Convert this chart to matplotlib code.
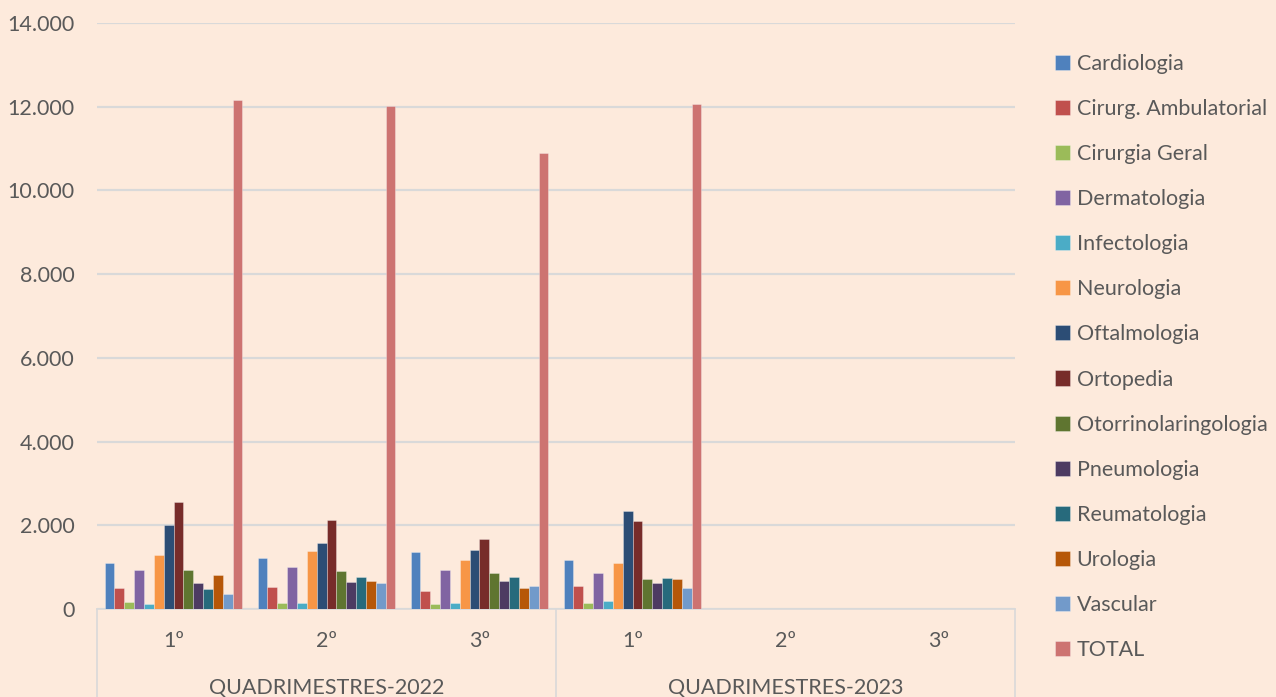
import numpy as np
import matplotlib.pyplot as plt

plt.rcParams['font.family'] = ['Lato', 'DejaVu Sans']

periods = ["1º", "2º", "3º", "1º", "2º", "3º"]
years = ["QUADRIMESTRES-2022", "QUADRIMESTRES-2023"]

specialties = ["Cardiologia", "Cirurg. Ambulatorial", "Cirurgia Geral", "Dermatologia",
               "Infectologia", "Neurologia", "Oftalmologia", "Ortopedia",
               "Otorrinolaringologia", "Pneumologia", "Reumatologia", "Urologia",
               "Vascular", "TOTAL"]

nan = np.nan
# one row per specialty, one column per period (2023 2º/3º still empty)
values = [
    [1100, 1210, 1360, 1180, nan, nan],       # Cardiologia
    [510, 520, 425, 550, nan, nan],           # Cirurg. Ambulatorial
    [160, 145, 120, 145, nan, nan],           # Cirurgia Geral
    [920, 1015, 935, 850, nan, nan],          # Dermatologia
    [120, 145, 135, 185, nan, nan],           # Infectologia
    [1285, 1375, 1175, 1095, nan, nan],       # Neurologia
    [2005, 1575, 1415, 2340, nan, nan],       # Oftalmologia
    [2545, 2130, 1675, 2100, nan, nan],       # Ortopedia
    [920, 900, 860, 725, nan, nan],           # Otorrinolaringologia
    [630, 640, 665, 630, nan, nan],           # Pneumologia
    [470, 765, 765, 735, nan, nan],           # Reumatologia
    [815, 665, 505, 720, nan, nan],           # Urologia
    [360, 615, 545, 495, nan, nan],           # Vascular
    [12150, 12010, 10900, 12060, nan, nan],   # TOTAL
]

colors = ["#4F81BD", "#C0504D", "#9BBB59", "#8064A2", "#4BACC6", "#F79646",
          "#2C4D75", "#772C2A", "#5F7530", "#4D3B62", "#276A7C", "#B65708",
          "#729ACA", "#CD7371"]

bg = "#FDEADC"
txt = "#595959"
grid = "#D9D9D9"
fs = 15.5

fig = plt.figure(figsize=(12.76, 6.97), dpi=100, facecolor=bg)
ax = fig.add_axes([97/1276, 88/697, 918/1276, 586/697], facecolor=bg)

n = len(specialties)
w = 0.9 / n
x = np.arange(len(periods))
for j, (name, vals) in enumerate(zip(specialties, values)):
    ax.bar(x + (j - (n - 1) / 2) * w, vals, width=w, color=colors[j], label=name,
           edgecolor=(1, 1, 1, 0.35), linewidth=0.6, zorder=3)

ax.set_xlim(-0.5, len(periods) - 0.5)
ax.set_ylim(0, 14000)
ax.set_yticks(np.arange(0, 14001, 2000))
ax.set_yticklabels([f"{v:,.0f}".replace(",", ".") for v in np.arange(0, 14001, 2000)])
ax.tick_params(axis='y', length=0, pad=16, labelsize=fs, labelcolor=txt)
ax.set_xticks([])
ax.grid(axis='y', color=grid, linewidth=1.6, zorder=0)
for s in ['top', 'right', 'left']:
    ax.spines[s].set_visible(False)
ax.spines['bottom'].set_color(grid)
ax.spines['bottom'].set_linewidth(1.2)

# two-level category axis
trans = ax.get_xaxis_transform()
for i, p in enumerate(periods):
    ax.text(i, -0.055, p, transform=trans, ha='center', va='center',
            fontsize=fs, color=txt)
for k, yr in enumerate(years):
    ax.text(3 * k + 1, -0.134, yr, transform=trans, ha='center', va='center',
            fontsize=fs, color=txt)
for xs in [-0.5, 2.5, 5.5]:
    ax.plot([xs, xs], [0, -0.16], transform=trans, color=grid, linewidth=1.2,
            clip_on=False)

handles, labels = ax.get_legend_handles_labels()
fig.legend(handles, labels, loc='upper left', bbox_to_anchor=(1055/1276, 1 - 54/697),
           frameon=False, fontsize=fs, labelcolor=txt, handlelength=0.7,
           handleheight=0.7, handletextpad=0.3, labelspacing=1.165, borderaxespad=0,
           borderpad=0)

fig.savefig("out.png", dpi=100, facecolor=bg)
